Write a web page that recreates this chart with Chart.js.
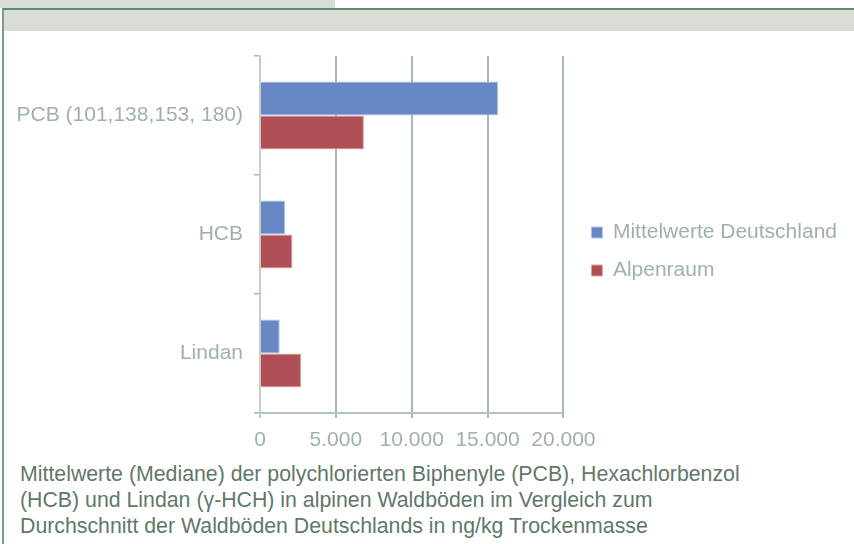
<!DOCTYPE html>
<html lang="de">
<head>
<meta charset="utf-8">
<script src="https://cdn.jsdelivr.net/npm/chart.js@4"></script>
<style>
    body {
        margin: 0;
        width: 854px;
        height: 544px;
        position: relative;
        overflow: hidden;
        background: #fff;
        font-family: 'Liberation Sans', Arial, sans-serif;
    }
    #reiter { position: absolute; left: 0; top: 0; width: 335px; height: 8px; background: #d8ddd6; }
    #rahmen { position: absolute; left: 2px; top: 8px; right: -10px; bottom: -10px; border-top: 2px solid #5d8c6c; border-left: 2px solid #7a9f85; }
    #band { position: absolute; left: 4px; top: 10px; right: 0; height: 21px; background: #d8ddd6; }
    #diagramm { position: absolute; left: 0; top: 40px; width: 854px; height: 416px; }
    #text { position: absolute; left: 20px; top: 461px; font-size: 21.3px; line-height: 26px; color: #5f7869; white-space: nowrap; }
</style>
</head>
<body>
<div id="reiter"></div>
<div id="rahmen"></div>
<div id="band"></div>
<div id="diagramm"><canvas id="myChart"></canvas></div>
<div id="text">Mittelwerte (Mediane) der polychlorierten Biphenyle (PCB), Hexachlorbenzol<br>(HCB) und Lindan (γ-HCH) in alpinen Waldböden im Vergleich zum<br>Durchschnitt der Waldböden Deutschlands in ng/kg Trockenmasse</div>
<script>
const kategorien = ['PCB (101,138,153, 180)', 'HCB', 'Lindan']
const mittelwerteDeutschland = [15700, 1660, 1300]
const alpenraum = [6850, 2140, 2720]
const xTickLabels = ['0', '5.000', '10.000', '15.000', '20.000']

const schrift = { family: "'Liberation Sans', Arial, sans-serif", size: 21 }
const grau = '#a0b1a5'
const gitter = '#a9b9ad'

// Legende etwas nach rechts/oben schieben wie im Original
const legendeVerschieben = {
    id: 'legendeVerschieben',
    afterLayout: chart => {
        const l = chart.legend
        l.left += 11
        l.right += 11
        l.top -= 3
        l.bottom -= 3
    }
}

var ctx = document.getElementById('myChart').getContext('2d');
var myChart = new Chart(ctx, {
    type: 'bar',
    data: {
        labels: kategorien,
        datasets: [{
            label: 'Mittelwerte Deutschland',
            data: mittelwerteDeutschland,
            backgroundColor: '#6787c5',
            borderColor: '#b4c4e6',
            borderWidth: 1
        }, {
            label: 'Alpenraum',
            data: alpenraum,
            backgroundColor: '#b04e55',
            borderColor: '#dca6aa',
            borderWidth: 1
        }]
    },
    options: {
        indexAxis: 'y',
        responsive: true,
        maintainAspectRatio: false,
        animation: false,
        barPercentage: 1,
        categoryPercentage: 0.57,
        layout: {
            padding: { top: 16, right: 18, bottom: 3, left: 0 }
        },
        plugins: {
            tooltip: { enabled: false },
            legend: {
                position: 'right',
                maxWidth: 320,
                labels: {
                    boxWidth: 11,
                    boxHeight: 11,
                    padding: 17,
                    color: grau,
                    font: schrift
                }
            }
        },
        scales: {
            x: {
                min: 0,
                max: 20000,
                afterFit: s => { s.height = 40 },
                grid: {
                    color: c => c.index === 0 ? '#c3cfc6' : gitter,
                    lineWidth: 2,
                    tickLength: 5
                },
                border: { color: '#b5c4b9', width: 2 },
                ticks: {
                    stepSize: 5000,
                    padding: 10,
                    color: grau,
                    font: schrift,
                    callback: (v, i) => xTickLabels[i]
                }
            },
            y: {
                afterFit: s => {
                    s.width = 260
                    s.paddingTop = 0
                    s.paddingBottom = 0
                },
                grid: {
                    offset: true,
                    drawOnChartArea: false,
                    tickLength: 6,
                    color: gitter,
                    lineWidth: 1.5
                },
                border: { color: '#c3cfc6', width: 2 },
                ticks: {
                    padding: 11,
                    color: grau,
                    font: schrift
                }
            }
        }
    },
    plugins: [legendeVerschieben]
});
</script>
</body>
</html>
